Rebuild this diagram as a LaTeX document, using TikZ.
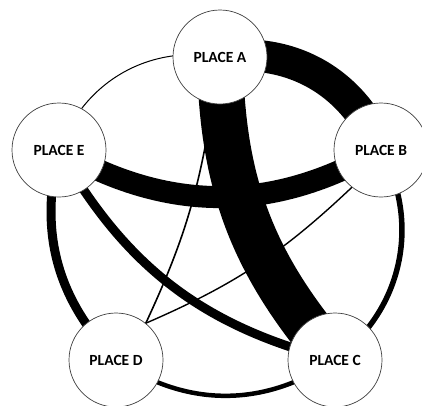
\documentclass[tikz,border=0pt]{standalone}
\usepackage{fontspec}
\setmainfont{Carlito}
\usetikzlibrary{backgrounds}
\tikzset{
  place/.style={draw=black!75, line width=0.7pt, circle, fill=white, minimum size=94pt, inner sep=0pt, font=\fontsize{15.5}{17}\selectfont\bfseries},
  link/.style={draw=black, line cap=butt},
}
\begin{document}
\begin{tikzpicture}[x=1pt,y=-1pt]
\useasboundingbox (0,0) rectangle (422,405);
\node[place] (pa) at (220,57) {PLACE A};
\node[place] (pb) at (381,150) {PLACE B};
\node[place] (pc) at (335,360) {PLACE C};
\node[place] (pd) at (116,360) {PLACE D};
\node[place] (pe) at (59,150) {PLACE E};
\begin{scope}[on background layer]
% outer ring
\draw[link, line width=1pt] (pa.center) to[bend right=40] (pe.center);
\draw[link, line width=32pt] (pa.center) to[bend left=38] (pb.center);
\draw[link, line width=5.5pt] (pb.center) to[bend left=41] (pc.center);
\draw[link, line width=4.5pt] (pc.center) to[bend left=34] (pd.center);
\draw[link, line width=9pt] (pd.center) to[bend left=29] (pe.center);
% inner links
\draw[link, line width=22pt] (pe.center) to[bend right=30] (pb.center);
\draw[link, line width=46pt] (pa.center) to[bend right=20] (pc.center);
\draw[link, line width=9pt] (pe.center) to[bend right=23] (pc.center);
\draw[link, line width=1.6pt] (pa.261) to[bend left=8] (pd.51);
\draw[link, line width=1.4pt] (pd.51) to[bend right=10] (pb.232);
\end{scope}
\end{tikzpicture}
\end{document}
